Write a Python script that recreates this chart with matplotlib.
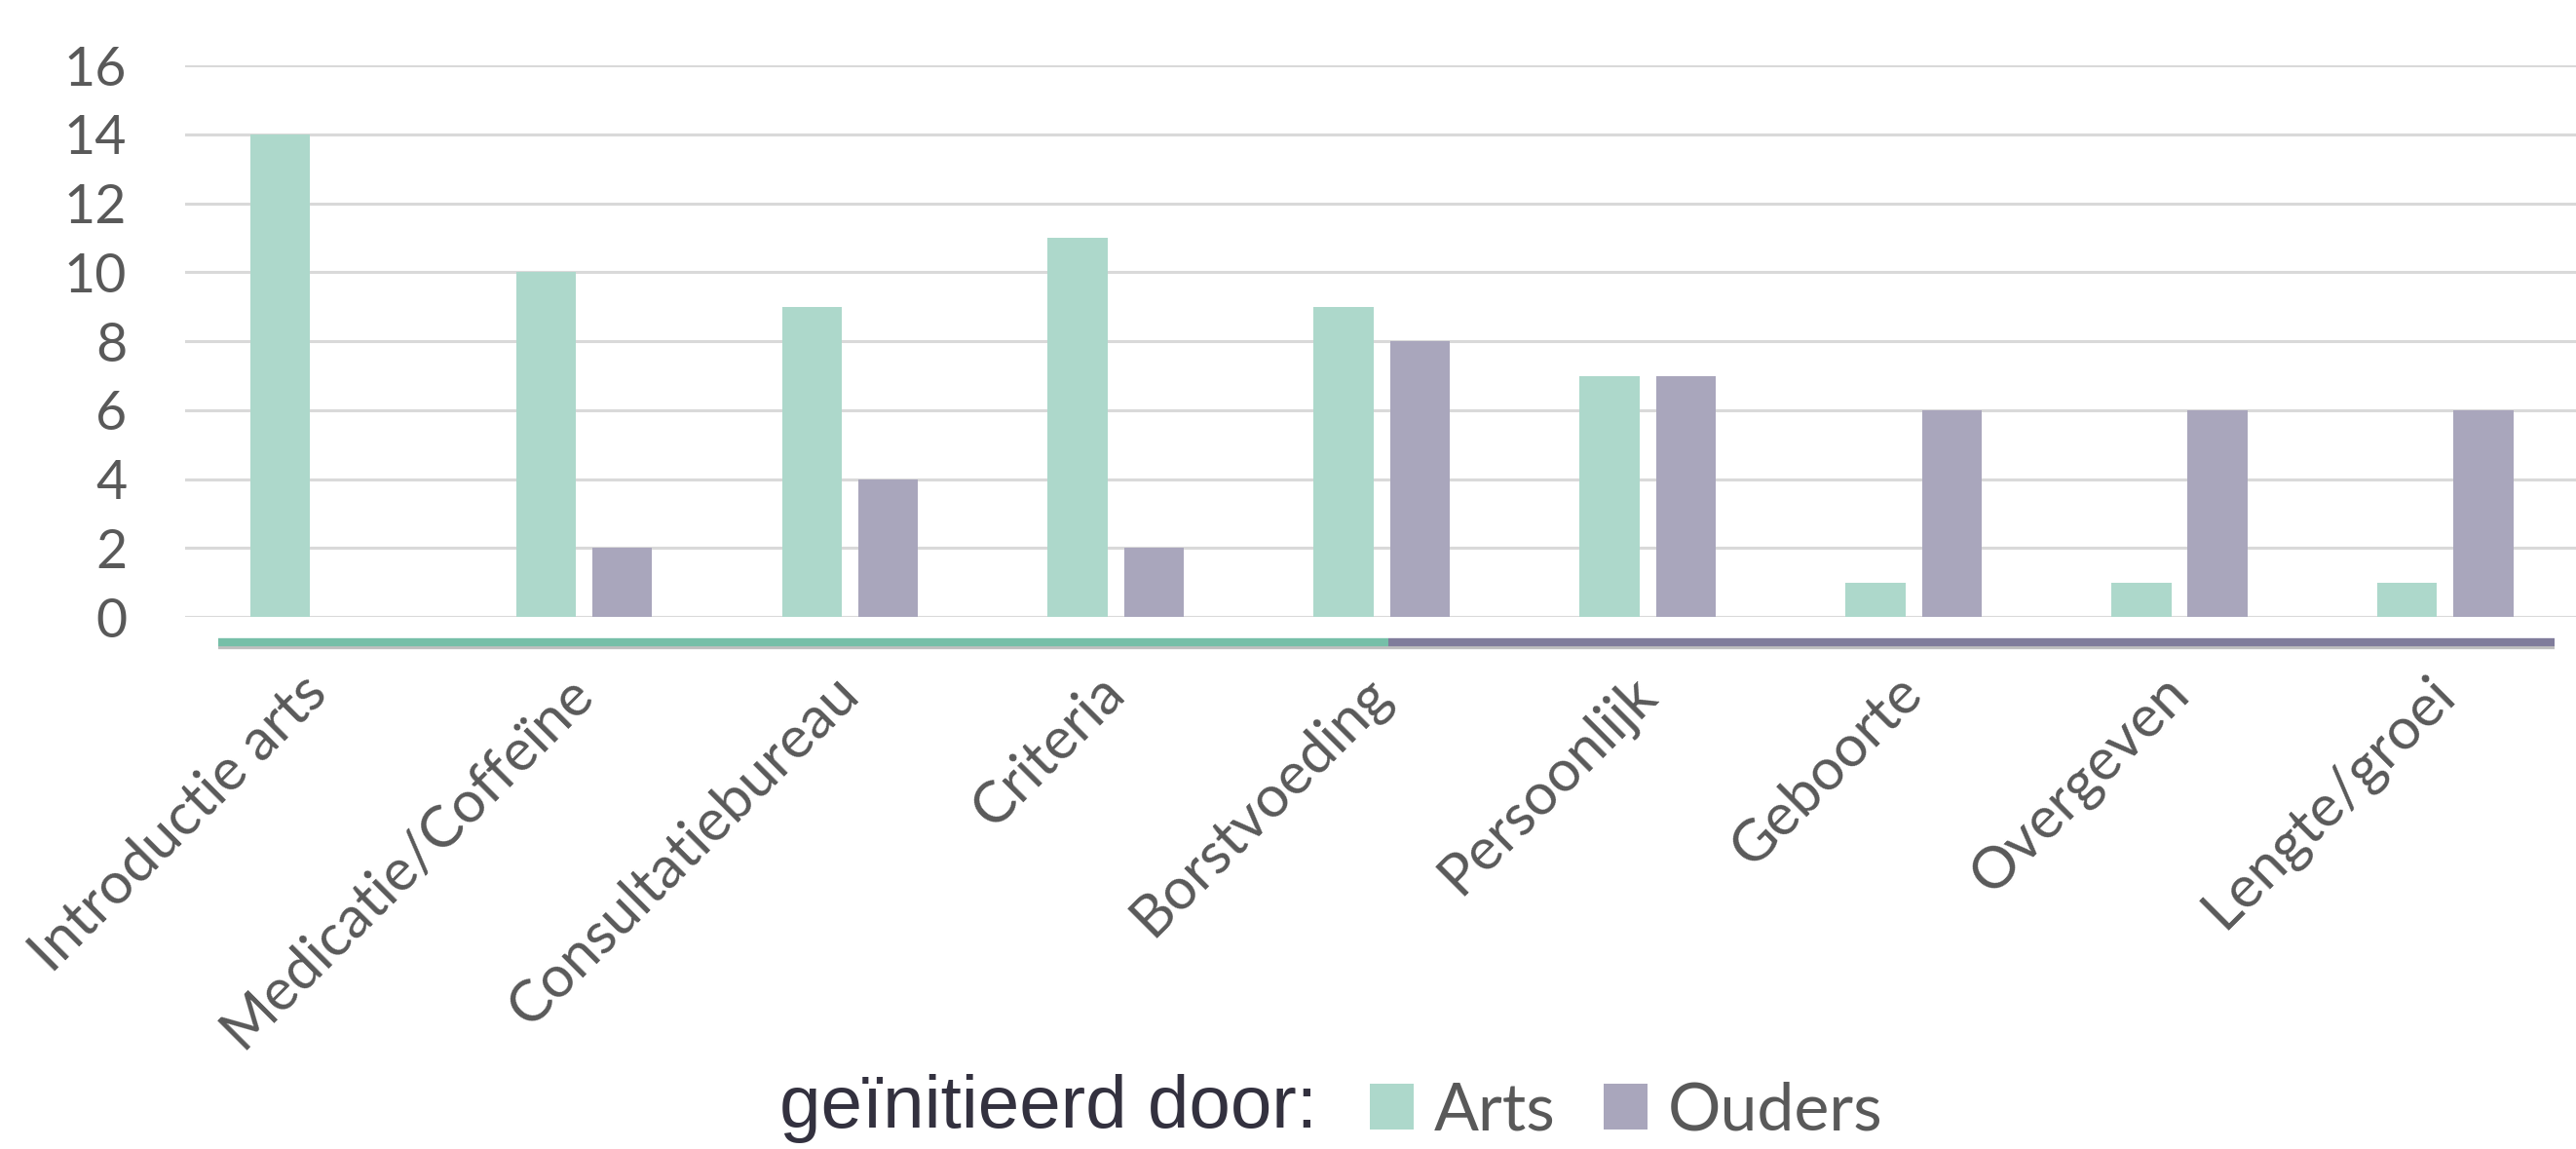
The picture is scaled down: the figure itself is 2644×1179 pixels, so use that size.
import matplotlib
matplotlib.use("Agg")
import matplotlib.pyplot as plt
import matplotlib.patheffects as pe
import matplotlib.transforms as mtransforms
import numpy as np

# data
categorieen = ["Introductie arts", "Medicatie/Coffeïne", "Consultatiebureau", "Criteria",
               "Borstvoeding", "Persoonlijk", "Geboorte", "Overgeven", "Lengte/groei"]
arts = [14, 10, 9, 11, 9, 7, 1, 1, 1]
ouders = [0, 2, 4, 2, 8, 7, 6, 6, 6]
yticks = [0, 2, 4, 6, 8, 10, 12, 14, 16]
split_cat = "Borstvoeding"  # kleur van de as wisselt hier

kleur_arts = "#ADD8CB"
kleur_ouders = "#A9A6BC"
as_groen = "#76BFA8"
as_paars = "#807C9B"
tekst = "#595959"

plt.rcParams['font.family'] = ['Lato', 'DejaVu Sans']

fig = plt.figure(figsize=(26.44, 11.79), dpi=100)
ax = fig.add_axes([0.0719, 0.463, 0.929, 0.480])

x = np.arange(len(categorieen))
w = 0.225
off = 0.1435
b1 = ax.bar(x - off, arts, w, color=kleur_arts, zorder=3, label="Arts")
b2 = ax.bar(x + off, ouders, w, color=kleur_ouders, zorder=3, label="Ouders")

ax.set_xlim(-0.5, len(categorieen) - 0.5)
ax.set_ylim(0, 16)
ax.set_yticks(yticks)
ax.yaxis.grid(True, color="#D9D9D9", linewidth=2.2, zorder=0)
ax.set_axisbelow(True)
for s in ax.spines.values():
    s.set_visible(False)
ax.tick_params(axis='y', length=0, pad=43, labelsize=40, labelcolor=tekst)
ax.tick_params(axis='x', length=0, pad=50, labelsize=43, labelcolor=tekst)
ax.set_xticks(x)
ax.set_xticklabels(categorieen, rotation=45, ha='right', va='center', rotation_mode='anchor')

# dikke gekleurde as onder de grafiek
trans = mtransforms.blended_transform_factory(ax.transData, ax.transAxes)
xs = categorieen.index(split_cat)
y_as = -0.045
schaduw = [pe.SimpleLineShadow(offset=(0, -2.5), shadow_color='gray', alpha=0.5), pe.Normal()]
ax.plot([-0.376, xs + 0.025], [y_as, y_as], color=as_groen, lw=6, transform=trans,
        clip_on=False, solid_capstyle='butt', path_effects=schaduw, zorder=4)
ax.plot([xs + 0.025, 8.41], [y_as, y_as], color=as_paars, lw=6, transform=trans,
        clip_on=False, solid_capstyle='butt', path_effects=schaduw, zorder=4)

# legenda
fig.text(0.3025, 0.019, "geïnitieerd door:", fontsize=55, color="#33313F",
         family=['Liberation Sans Narrow', 'Liberation Sans', 'DejaVu Sans'],
         ha='left', va='baseline')
fig.legend(handles=[b1, b2], loc='center left', bbox_to_anchor=(0.5216, 0.0325),
           frameon=False, ncol=2, fontsize=49, handlelength=0.66, handleheight=0.69,
           handletextpad=0.3, columnspacing=0.73, labelcolor=tekst, borderaxespad=0)

fig.savefig("out.png", dpi=100)
